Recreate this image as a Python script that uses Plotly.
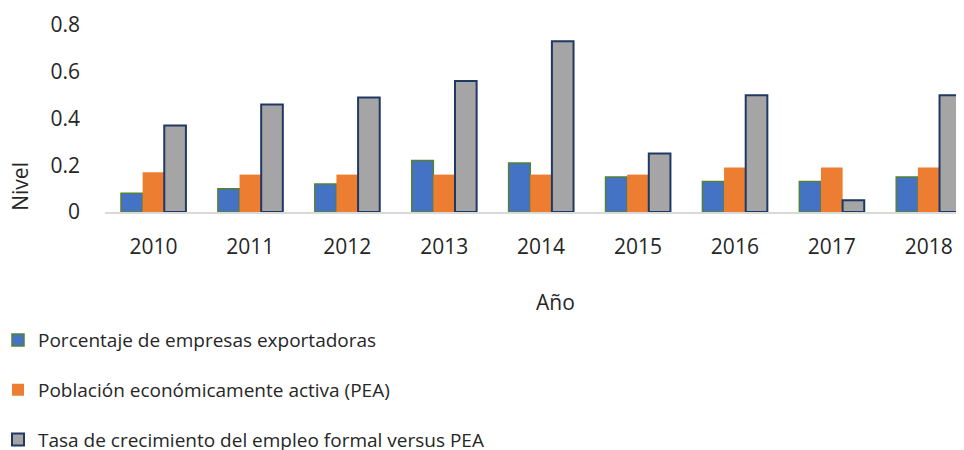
import plotly.graph_objects as go

years = ["2010", "2011", "2012", "2013", "2014", "2015", "2016", "2017", "2018"]
exportadoras = [0.08, 0.10, 0.12, 0.22, 0.21, 0.15, 0.13, 0.13, 0.15]
pea = [0.17, 0.16, 0.16, 0.16, 0.16, 0.16, 0.19, 0.19, 0.19]
empleo = [0.37, 0.46, 0.49, 0.56, 0.73, 0.25, 0.50, 0.05, 0.50]
y_ticks = [0, 0.2, 0.4, 0.6, 0.8]
y_tick_labels = ["0", "0.2", "0.4", "0.6", "0.8"]

names = [
    "Porcentaje de empresas exportadoras",
    "Población económicamente activa (PEA)",
    "Tasa de crecimiento del empleo formal versus PEA",
]

FONT = "Open Sans"
TXT = "#262626"

fig = go.Figure()
fig.add_trace(go.Bar(x=years, y=exportadoras, name=names[0], legendgroup="a",
                     marker=dict(color="#4472C4", line=dict(color="#548235", width=1.5))))
fig.add_trace(go.Bar(x=years, y=pea, name=names[1], legendgroup="b",
                     marker=dict(color="#ED7D31", line=dict(color="#ED7D31", width=0))))
fig.add_trace(go.Bar(x=years, y=empleo, name=names[2], legendgroup="c",
                     marker=dict(color="#A5A5A5", line=dict(color="#203864", width=2))))

# page body has an 8px default margin, so the figure is 956x442
fig.update_layout(
    width=956, height=442,
    margin=dict(l=97, r=1, t=17, b=237.5, autoexpand=False),
    paper_bgcolor="white", plot_bgcolor="white",
    barmode="group", bargap=0.33, bargroupgap=0,
    font=dict(family=FONT, color=TXT, size=20),
    showlegend=True,
    legend=dict(
        x=-0.1247, y=-0.584,
        xanchor="left", yanchor="top", orientation="v",
        traceorder="grouped", tracegroupgap=22,
        font=dict(family=FONT, size=19, color=TXT),
        itemwidth=30, bgcolor="rgba(0,0,0,0)",
    ),
    xaxis=dict(
        range=[-0.5, 8.354],
        showgrid=False, showline=True, linecolor="#D9D9D9", linewidth=1.5,
        ticks="", tickfont=dict(family=FONT, size=21, color=TXT),
        ticklabelstandoff=15,
    ),
    yaxis=dict(
        range=[0, 0.8], tickvals=y_ticks, ticktext=y_tick_labels,
        showgrid=False, zeroline=False, showline=False, ticks="",
        tickfont=dict(family=FONT, size=21, color=TXT),
        ticklabelstandoff=24,
    ),
    annotations=[
        dict(text="Año", xref="paper", yref="paper", x=0.5245, y=-0.483,
             xanchor="center", yanchor="middle",
             showarrow=False, font=dict(family=FONT, size=21, color=TXT)),
        dict(text="Nivel", xref="paper", yref="paper", x=-0.100, y=0.136,
             xanchor="center", yanchor="middle",
             textangle=-90, showarrow=False,
             font=dict(family=FONT, size=21, color=TXT)),
    ],
)

fig.write_html("out.html")
